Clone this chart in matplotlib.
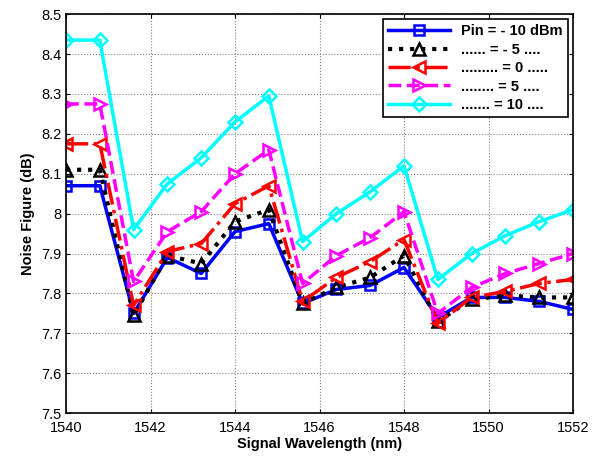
import matplotlib
matplotlib.use('Agg')
import matplotlib.pyplot as plt

# wavelength points (nm)
wl = [1540, 1540.8, 1541.6, 1542.4, 1543.2, 1544, 1544.8, 1545.6,
      1546.4, 1547.2, 1548, 1548.8, 1549.6, 1550.4, 1551.2, 1552]

nf_m10 = [8.07, 8.07, 7.75, 7.89, 7.85, 7.955, 7.975, 7.775,
          7.81, 7.82, 7.865, 7.74, 7.79, 7.79, 7.78, 7.76]
nf_m5 = [8.11, 8.11, 7.745, 7.895, 7.875, 7.98, 8.01, 7.775,
         7.815, 7.84, 7.895, 7.73, 7.785, 7.795, 7.79, 7.79]
nf_0 = [8.175, 8.175, 7.77, 7.905, 7.925, 8.025, 8.07, 7.78,
        7.84, 7.88, 7.935, 7.725, 7.79, 7.805, 7.825, 7.835]
nf_5 = [8.275, 8.275, 7.83, 7.955, 8.005, 8.1, 8.16, 7.825,
        7.895, 7.94, 8.005, 7.75, 7.815, 7.85, 7.875, 7.9]
nf_10 = [8.435, 8.435, 7.96, 8.075, 8.14, 8.23, 8.295, 7.93,
         8.0, 8.055, 8.12, 7.835, 7.9, 7.945, 7.98, 8.01]

labels = ['Pin = - 10 dBm', '...... = - 5 ....', '......... = 0 .....',
          '........ = 5 ....', '....... = 10 ....']

plt.rcParams['font.family'] = ['Liberation Sans', 'DejaVu Sans']

fig = plt.figure(figsize=(6.0, 4.57), dpi=100)
ax = fig.add_axes([0.11, 0.096, 0.845, 0.873])

lw = 2.5
ms = 8
ax.plot(wl, nf_m10, color='#0000ff', ls='-', lw=lw, marker='s', ms=7,
        mfc='none', mew=1.8, label=labels[0])
ax.plot(wl, nf_m5, color='black', ls=':', lw=lw + 0.5, marker='^', ms=ms,
        mfc='none', mew=1.8, label=labels[1])
ax.plot(wl, nf_0, color='red', ls='-.', lw=lw, marker='<', ms=ms + 1,
        mfc='none', mew=1.8, label=labels[2])
ax.plot(wl, nf_5, color='magenta', ls='--', lw=lw, marker='>', ms=ms + 1,
        mfc='none', mew=1.8, label=labels[3])
ax.plot(wl, nf_10, color='cyan', ls='-', lw=lw, marker='D', ms=7,
        mfc='none', mew=1.8, label=labels[4])

ax.set_xlim(1540, 1552)
ax.set_ylim(7.5, 8.5)
ax.set_xticks(range(1540, 1553, 2))
ax.set_yticks([7.5, 7.6, 7.7, 7.8, 7.9, 8.0, 8.1, 8.2, 8.3, 8.4, 8.5])
ax.set_yticklabels(['7.5', '7.6', '7.7', '7.8', '7.9', '8', '8.1', '8.2',
                    '8.3', '8.4', '8.5'])
ax.tick_params(direction='in', labelsize=10.5, top=True, right=True, length=3)
ax.tick_params(axis='x', pad=6)
ax.grid(True, color='#808080', ls=':', lw=0.8)
for s in ax.spines.values():
    s.set_linewidth(1.2)

ax.set_xlabel('Signal Wavelength (nm)', fontweight='bold', fontsize=10.5,
              labelpad=1)
ax.set_ylabel('Noise Figure (dB)', fontweight='bold', fontsize=10.5)

leg = ax.legend(loc='upper right', fancybox=False, edgecolor='black',
                framealpha=1, prop={'weight': 'bold', 'size': 10.5},
                handlelength=4.2, borderaxespad=0.35, labelspacing=0.3,
                borderpad=0.35)
leg.get_frame().set_linewidth(1.2)

fig.savefig('out.png', dpi=100)
